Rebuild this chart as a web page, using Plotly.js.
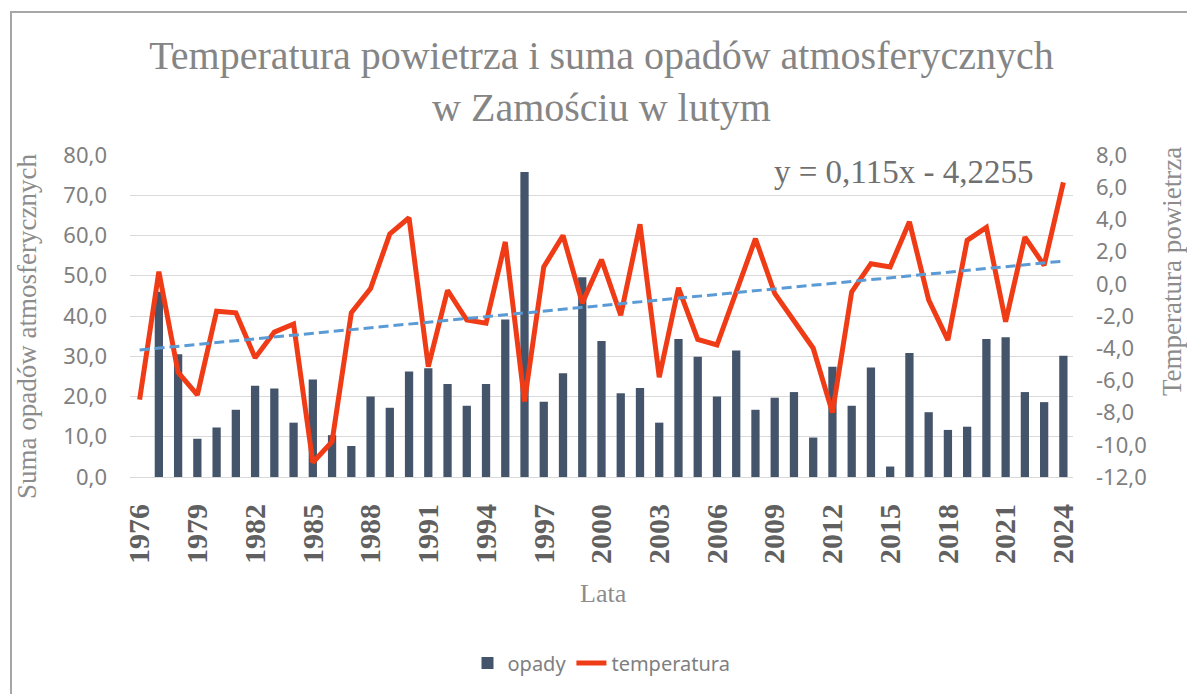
<!DOCTYPE html>
<html>
<head>
<meta charset="utf-8">
<script src="https://cdn.plot.ly/plotly-3.0.1.min.js"></script>
<style>
  html, body { margin: 0; padding: 0; width: 1187px; height: 694px; overflow: hidden; background: #fff; }
  #chart { position: absolute; left: 0; top: 0; width: 1187px; height: 694px; }
  #frame { position: absolute; left: 10px; top: 11px; width: 1300px; height: 800px; border: 2px solid #a6a6a6; pointer-events: none; }
</style>
</head>
<body>
<div id="chart"></div>
<div id="frame"></div>
<script>
// ---- data ----
const years = [1976,1977,1978,1979,1980,1981,1982,1983,1984,1985,1986,1987,1988,1989,1990,1991,1992,1993,1994,1995,1996,1997,1998,1999,2000,2001,2002,2003,2004,2005,2006,2007,2008,2009,2010,2011,2012,2013,2014,2015,2016,2017,2018,2019,2020,2021,2022,2023,2024];

const opady = [null,46.0,30.5,9.5,12.3,16.7,22.7,22.0,13.5,24.2,10.4,7.7,20.0,17.2,26.2,27.0,23.1,17.7,23.1,39.1,75.8,18.7,25.8,49.6,33.8,20.8,22.1,13.5,34.3,29.9,20.0,31.4,16.7,19.7,21.1,9.8,27.4,17.7,27.2,2.6,30.8,16.1,11.7,12.5,34.3,34.7,21.1,18.6,30.1];

const temperatura = [-7.2,0.75,-5.5,-6.9,-1.7,-1.8,-4.6,-3.0,-2.5,-11.1,-9.8,-1.8,-0.3,3.1,4.1,-5.15,-0.4,-2.25,-2.45,2.6,-7.3,1.05,3.0,-1.2,1.5,-1.95,3.7,-5.8,-0.25,-3.45,-3.8,-0.5,2.8,-0.6,-2.35,-4.0,-8.0,-0.5,1.25,1.05,3.85,-1.0,-3.5,2.7,3.5,-2.35,2.9,1.15,6.3];

// linear trend shown on the chart: y = 0,115x - 4,2255 (x = 1..n)
const trendSlope = 0.115;
const trendIntercept = -4.2255;

const xTickVals = [1976,1979,1982,1985,1988,1991,1994,1997,2000,2003,2006,2009,2012,2015,2018,2021,2024];
const xTickLabels = ['1976','1979','1982','1985','1988','1991','1994','1997','2000','2003','2006','2009','2012','2015','2018','2021','2024'];

const leftTickVals = [0,10,20,30,40,50,60,70,80];
const leftTickLabels = ['0,0','10,0','20,0','30,0','40,0','50,0','60,0','70,0','80,0'];
const rightTickVals = [-12,-10,-8,-6,-4,-2,0,2,4,6,8];
const rightTickLabels = ['-12,0','-10,0','-8,0','-6,0','-4,0','-2,0','0,0','2,0','4,0','6,0','8,0'];

const trendX = [years[0], years[years.length - 1]];
const trendY = [trendSlope * 1 + trendIntercept, trendSlope * years.length + trendIntercept];

// ---- plot ----
const serif = 'Liberation Serif, Times New Roman, serif';
const sans = 'Noto Sans, Open Sans, sans-serif';

const traces = [
  {
    type: 'bar', name: 'opady', x: years, y: opady, yaxis: 'y',
    marker: { color: '#44546a' }, width: 0.43, hoverinfo: 'x+y'
  },
  {
    type: 'scatter', mode: 'lines', name: 'temperatura', x: years, y: temperatura, yaxis: 'y2',
    line: { color: '#f03c16', width: 5 }
  },
  {
    type: 'scatter', mode: 'lines', name: 'trend', x: trendX, y: trendY, yaxis: 'y2',
    line: { color: '#5b9bd5', width: 3, dash: '10px,5px' }, showlegend: false
  }
];

const layout = {
  width: 1187, height: 694,
  margin: { l: 130, r: 114, t: 155, b: 217, pad: 0 },
  paper_bgcolor: 'rgba(0,0,0,0)', plot_bgcolor: 'rgba(0,0,0,0)',
  separators: ', ',
  showlegend: true,
  title: {
    text: 'Temperatura powietrza i suma opadów atmosferycznych<br>w Zamościu w lutym',
    font: { family: serif, size: 40, color: '#858585' },
    x: 0.5, xref: 'paper', xanchor: 'center',
    y: 1 - 69 / 694, yref: 'container', yanchor: 'top'
  },
  xaxis: {
    range: [1975.5, 2024.5], tickmode: 'array', tickvals: xTickVals, ticktext: xTickLabels,
    tickangle: -90, ticks: '', ticklabelstandoff: 14,
    tickfont: { family: serif, size: 30, color: '#606060', weight: 'bold' },
    showgrid: false, showline: true, linecolor: '#d9d9d9', linewidth: 1, zeroline: false, fixedrange: true
  },
  yaxis: {
    range: [0, 80], tickmode: 'array', tickvals: leftTickVals, ticktext: leftTickLabels,
    ticks: '', ticklabelstandoff: 22,
    tickfont: { family: sans, size: 22, color: '#7f7f7f' },
    showgrid: true, gridcolor: '#d9d9d9', gridwidth: 1, zeroline: false, showline: false, fixedrange: true
  },
  yaxis2: {
    range: [-12, 8], overlaying: 'y', side: 'right', tickmode: 'array', tickvals: rightTickVals, ticktext: rightTickLabels,
    ticks: '', ticklabelstandoff: 22,
    tickfont: { family: sans, size: 22, color: '#7f7f7f' },
    showgrid: false, zeroline: false, showline: false, fixedrange: true
  },
  legend: {
    orientation: 'h', x: 0.5, xanchor: 'center', y: (477 - 663) / 322, yanchor: 'middle',
    font: { family: sans, size: 20, color: '#7f7f7f' }, bgcolor: 'rgba(0,0,0,0)'
  },
  annotations: [
    { text: 'y = 0,115x - 4,2255', xref: 'paper', yref: 'paper', x: (903 - 130) / 943, y: (477 - 172) / 322,
      xanchor: 'center', yanchor: 'middle', showarrow: false,
      font: { family: serif, size: 33, color: '#707070' } },
    { text: 'Suma opadów atmosferycznych', xref: 'paper', yref: 'paper', x: (27 - 130) / 943, y: (477 - 327) / 322,
      xanchor: 'center', yanchor: 'middle', textangle: -90, showarrow: false,
      font: { family: serif, size: 27, color: '#8c8c8c' } },
    { text: 'Temperatura powietrza', xref: 'paper', yref: 'paper', x: (1172 - 130) / 943, y: (477 - 272) / 322,
      xanchor: 'center', yanchor: 'middle', textangle: -90, showarrow: false,
      font: { family: serif, size: 27, color: '#8c8c8c' } },
    { text: 'Lata', xref: 'paper', yref: 'paper', x: (603 - 130) / 943, y: (477 - 593) / 322,
      xanchor: 'center', yanchor: 'middle', showarrow: false,
      font: { family: serif, size: 26, color: '#8c8c8c' } }
  ]
};

Plotly.newPlot('chart', traces, layout, { displayModeBar: false, staticPlot: true });
</script>
</body>
</html>
